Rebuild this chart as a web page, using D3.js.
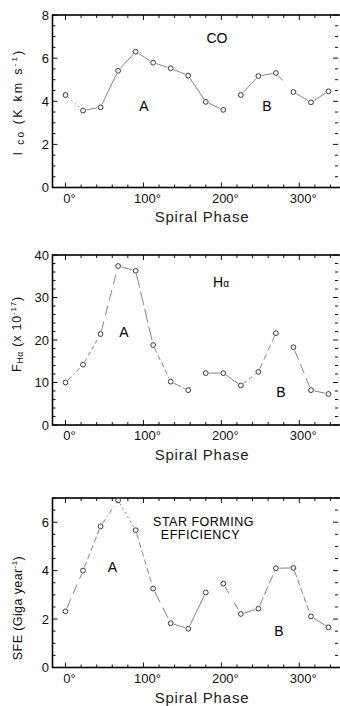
<!DOCTYPE html>
<html><head><meta charset="utf-8">
<script src="https://cdn.jsdelivr.net/npm/d3@7"></script>
<style>
html,body{margin:0;padding:0;background:#fff;}
svg{display:block;font-family:"Liberation Sans",Arial,sans-serif;}
</style></head>
<body><svg id="c" width="340" height="706"></svg>
<script>
// ---- data ----
const phases = [0,22.5,45,67.5,90,112.5,135,157.5,180,202.5,225,247.5,270,292.5,315,337.5];
const coValues = [4.29,3.57,3.72,5.41,6.30,5.79,5.53,5.19,3.97,3.60,4.29,5.17,5.31,4.43,3.95,4.46];
const haValues = [10.0,14.2,21.4,37.4,36.3,18.8,10.2,8.2,12.2,12.2,9.3,12.5,21.6,18.3,8.2,7.3];
const sfeValues = [2.32,4.0,5.83,6.9,5.67,3.26,1.83,1.60,3.10,3.46,2.21,2.43,4.10,4.11,2.11,1.66];
const xTickValues = [0,100,200,300];
const xTickLabels = ["0°","100°","200°","300°"];
const coTicks = [0,2,4,6,8];
const haTicks = [0,10,20,30,40];
const sfeTicks = [0,2,4,6];

// segment line styles (style only, not data)
const coSeg = ["1.5,3","","","","","","","","", "none","","","7,20","",""];
const haSeg = ["5,3,1,3","4,3","10,6","","14,4","5,3","8,2","none","","","4,3","6,4","none","10,5",""];
const sfeSeg = ["10,6","6,3","5,3,1,3","2,3","6,3","12,6","","","none","8,10","","9,3","","6,3",""];

const svg = d3.select("#c");
const frameL = 52.5, frameR = 341;
const x = d3.scaleLinear().domain([0,337.5]).range([65.5,328.5]);

function panel(o){
  const y = d3.scaleLinear().domain([0,o.max]).range([o.bottom,o.top]);
  const g = svg.append("g");
  const tg = g.append("g").attr("stroke","#111").attr("stroke-width",1);
  d3.range(-20, 341, 20).forEach(v=>{
    const px = x(v); if(px<=frameL+1||px>=frameR) return;
    const len = (v%100===0)?5:3;
    tg.append("line").attr("x1",px).attr("x2",px).attr("y1",o.top).attr("y2",o.top+len);
    tg.append("line").attr("x1",px).attr("x2",px).attr("y1",o.bottom).attr("y2",o.bottom-len);
  });
  d3.range(0, o.max+1e-9, o.minor).forEach(v=>{
    const py = y(v);
    const len = o.ticks.includes(v)?5:3;
    tg.append("line").attr("x1",frameL).attr("x2",frameL+len).attr("y1",py).attr("y2",py);
    tg.append("line").attr("x1",338).attr("x2",338-len).attr("y1",py).attr("y2",py);
  });
  g.append("rect").attr("x",frameL).attr("y",o.top).attr("width",frameR-frameL).attr("height",o.bottom-o.top)
    .attr("fill","none").attr("stroke","#000").attr("stroke-width",1.6);
  g.selectAll(".yl").data(o.ticks).join("text")
    .attr("x",49).attr("y",d=>y(d)).attr("dy","0.36em").attr("text-anchor","end")
    .attr("font-size",13).attr("fill","#111").text(d=>d);
  g.selectAll(".xl").data(xTickValues).join("text")
    .attr("x",d=>x(d)+4).attr("y",o.bottom+15).attr("text-anchor","middle")
    .attr("font-size",13).attr("fill","#111").text((d,i)=>xTickLabels[i]);
  g.append("text").attr("x",202).attr("y",o.xTitleY).attr("text-anchor","middle")
    .attr("font-size",15).attr("fill","#222").attr("letter-spacing",0.8).text("Spiral Phase");
  const r = 2.4;
  for(let i=0;i<phases.length-1;i++){
    const st = o.seg[i];
    if(st==="none") continue;
    const x1=x(phases[i]), y1=y(o.values[i]), x2=x(phases[i+1]), y2=y(o.values[i+1]);
    const dx=x2-x1, dy=y2-y1, L=Math.hypot(dx,dy);
    const ux=dx/L, uy=dy/L;
    g.append("line").attr("x1",x1+ux*(r+1)).attr("y1",y1+uy*(r+1))
      .attr("x2",x2-ux*(r+1)).attr("y2",y2-uy*(r+1))
      .attr("stroke","#666").attr("stroke-width",0.8)
      .attr("stroke-dasharray",st||null);
  }
  g.selectAll("circle").data(o.values).join("circle")
    .attr("cx",(d,i)=>x(phases[i])).attr("cy",d=>y(d)).attr("r",r)
    .attr("fill","#fff").attr("stroke","#222").attr("stroke-width",0.9);
  return {g,y};
}

// Panel 1: CO
const p1 = panel({top:15,bottom:187.5,max:8,minor:0.5,ticks:coTicks,values:coValues,seg:coSeg,xTitleY:221.5});
p1.g.append("text").attr("x",217).attr("y",43).attr("text-anchor","middle").attr("font-size",14).text("CO");
p1.g.append("text").attr("x",144).attr("y",111).attr("text-anchor","middle").attr("font-size",14).text("A");
p1.g.append("text").attr("x",267).attr("y",111).attr("text-anchor","middle").attr("font-size",14).text("B");
const t1 = p1.g.append("text").attr("transform","translate(22,102) rotate(-90)").attr("text-anchor","middle")
  .attr("font-size",12.5).attr("fill","#111").attr("letter-spacing",2.2);
t1.append("tspan").text("I");
t1.append("tspan").attr("font-size",10).attr("dy",2).text(" co");
t1.append("tspan").attr("dy",-2).text("  (K  km  s");
t1.append("tspan").attr("font-size",8).attr("dy",-5).text("-1");
t1.append("tspan").attr("dy",5).text(")");

// Panel 2: Halpha
const p2 = panel({top:255,bottom:425,max:40,minor:2,ticks:haTicks,values:haValues,seg:haSeg,xTitleY:460});
const h2 = p2.g.append("text").attr("x",221).attr("y",287).attr("text-anchor","middle").attr("font-size",14);
h2.append("tspan").text("H");
h2.append("tspan").attr("font-size",10).text("α");
p2.g.append("text").attr("x",124).attr("y",337).attr("text-anchor","middle").attr("font-size",14).text("A");
p2.g.append("text").attr("x",281).attr("y",397).attr("text-anchor","middle").attr("font-size",14).text("B");
const t2 = p2.g.append("text").attr("transform","translate(21,334) rotate(-90)").attr("text-anchor","middle")
  .attr("font-size",12.5).attr("fill","#111").attr("letter-spacing",0.8);
t2.append("tspan").text("F");
t2.append("tspan").attr("font-size",8.5).attr("dy",2).text("Hα");
t2.append("tspan").attr("dy",-2).text(" (x 10");
t2.append("tspan").attr("font-size",8).attr("dy",-5).text("-17");
t2.append("tspan").attr("dy",5).text(")");

// Panel 3: SFE
const p3 = panel({top:498,bottom:667.5,max:7,minor:0.5,ticks:sfeTicks,values:sfeValues,seg:sfeSeg,xTitleY:703});
p3.g.append("text").attr("x",203.5).attr("y",526).attr("text-anchor","middle").attr("font-size",12.5).attr("letter-spacing",0.5).text("STAR  FORMING");
p3.g.append("text").attr("x",200.5).attr("y",539).attr("text-anchor","middle").attr("font-size",12.5).attr("letter-spacing",0.5).text("EFFICIENCY");
p3.g.append("text").attr("x",112.5).attr("y",572).attr("text-anchor","middle").attr("font-size",14).text("A");
p3.g.append("text").attr("x",279).attr("y",636).attr("text-anchor","middle").attr("font-size",14).text("B");
const t3 = p3.g.append("text").attr("transform","translate(22,608) rotate(-90)").attr("text-anchor","middle")
  .attr("font-size",12.5).attr("fill","#111").attr("letter-spacing",0.4);
t3.append("tspan").text("SFE (Giga year");
t3.append("tspan").attr("font-size",8).attr("dy",-5).text("-1");
t3.append("tspan").attr("dy",5).text(")");
</script></body></html>
